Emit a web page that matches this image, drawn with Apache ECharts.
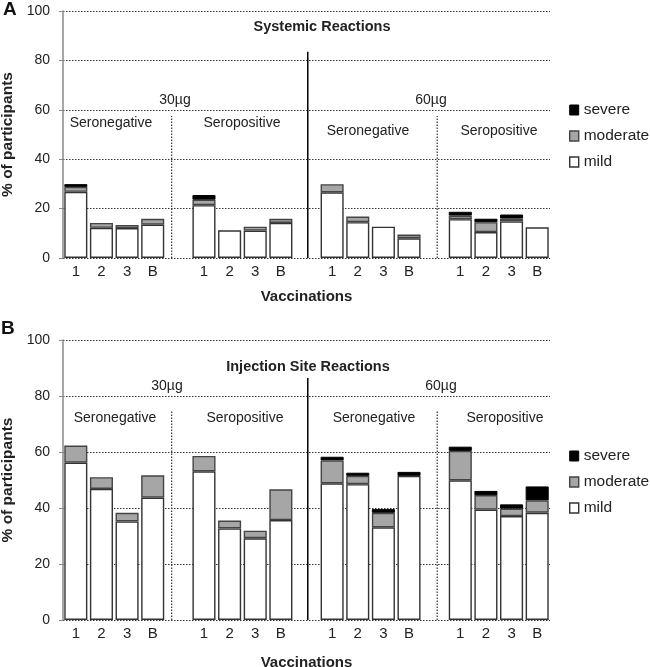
<!DOCTYPE html>
<html>
<head>
<meta charset="utf-8">
<script src="https://cdn.jsdelivr.net/npm/echarts@6/dist/echarts.min.js"></script>
<style>html,body{margin:0;padding:0;background:#fff}#c{width:650px;height:667px}</style>
</head>
<body>
<div id="c"></div>
<script>
// ---- data ----
const vaccinations = ['1', '2', '3', 'B'];
const groupLabels = ['Seronegative', 'Seropositive', 'Seronegative', 'Seropositive'];
const doseLabels = ['30µg', '60µg'];
const severityNames = ['severe', 'moderate', 'mild'];
const yTicks = [0, 20, 40, 60, 80, 100];

// Panel A: Systemic reactions (16 bars: 30µg SN, 30µg SP, 60µg SN, 60µg SP)
const sysMild     = [26.8, 12.2, 12.1, 13.5,  21.4, 11.2, 11.1, 14.2,  26.6, 14.5, 12.7, 8.0,  15.7, 10.5, 14.8, 12.4];
const sysModerate = [2.0, 2.0, 1.3, 2.4,      2.2, 0, 1.6, 1.7,        3.3, 2.3, 0, 1.5,      1.5, 4.0, 1.2, 0];
const sysSevere   = [1.1, 0, 0, 0,            1.9, 0, 0, 0,            0, 0, 0, 0,            1.5, 1.4, 1.6, 0];

// Panel B: Injection site reactions
const injMild     = [56.2, 46.8, 35.2, 43.7,  53.1, 32.7, 29.2, 35.7,  48.8, 48.5, 33.1, 51.5,  49.9, 39.4, 37.1, 38.3];
const injModerate = [6.1, 4.2, 3.1, 8.0,      5.5, 2.8, 2.7, 11.0,     8.2, 3.0, 5.2, 0,      10.5, 5.2, 2.7, 4.4];
const injSevere   = [0, 0, 0, 0,              0, 0, 0, 0,              1.3, 1.1, 1.3, 1.4,    1.5, 1.5, 1.5, 5.0];

// ---- build helpers ----
const FONT = 'Arial, "Liberation Sans", sans-serif';
// categories: 4 groups of 4 bars separated by one empty slot
const cats = [];
for (let g = 0; g < 4; g++) {
  vaccinations.forEach(v => cats.push(v));
  if (g < 3) cats.push('');
}
function expand(arr) {
  const out = [];
  for (let g = 0; g < 4; g++) {
    for (let i = 0; i < 4; i++) {
      const v = arr[g * 4 + i];
      out.push(v === 0 ? '-' : v);
    }
    if (g < 3) out.push('-');
  }
  return out;
}

const styles = {
  mild:     { color: '#ffffff', borderColor: '#333333', borderWidth: 1.4 },
  moderate: { color: '#a6a6a6', borderColor: '#444444', borderWidth: 1.4 },
  severe:   { color: '#000000', borderColor: '#000000', borderWidth: 1 }
};

const panels = [
  { mild: sysMild, moderate: sysModerate, severe: sysSevere, top: 11, bottom: 409, nameGap: 31, legendTop: 96,
    dividers: [{ x: 4.24, top: 57.5, solid: false }, { x: 9.55, top: 83.5, solid: true }, { x: 14.6, top: 57.5, solid: false }] },
  { mild: injMild, moderate: injModerate, severe: injSevere, top: 340, bottom: 47, nameGap: 35, legendTop: 442,
    dividers: [{ x: 4.24, top: 75, solid: false }, { x: 9.55, top: 86.4, solid: true }, { x: 14.6, top: 75, solid: false }] }
];

const grid = [], xAxis = [], yAxis = [], series = [], legend = [];
panels.forEach((p, i) => {
  grid.push({ left: 63, right: 100, top: p.top, bottom: p.bottom, containLabel: false, outerBoundsMode: 'none' });
  xAxis.push({
    type: 'category', gridIndex: i, data: cats,
    axisLine: { show: false }, axisTick: { show: false },
    axisLabel: { interval: 0, fontSize: 15, color: '#222', fontFamily: FONT, margin: 6 },
    name: 'Vaccinations', nameLocation: 'middle', nameGap: p.nameGap,
    nameTextStyle: { fontSize: 15, fontWeight: 'bold', color: '#222', fontFamily: FONT }
  });
  yAxis.push({
    type: 'value', gridIndex: i, min: yTicks[0], max: yTicks[yTicks.length - 1], interval: yTicks[1] - yTicks[0],
    axisLine: { show: true, lineStyle: { color: '#8a8a8a', width: 1.5 } },
    axisTick: { show: true, length: 4, lineStyle: { color: '#8a8a8a' } },
    axisLabel: { fontSize: 14, color: '#222', fontFamily: FONT, margin: 13 },
    splitLine: { show: true, lineStyle: { color: '#333', type: [1.5, 1.5], width: 1 } },
    name: '% of participants', nameLocation: 'middle', nameGap: 44,
    nameTextStyle: { fontSize: 15.5, fontWeight: 'bold', color: '#222', fontFamily: FONT }
  });
  ['mild', 'moderate', 'severe'].forEach(k => {
    series.push({
      name: k, type: 'bar', stack: 'p' + i, xAxisIndex: i, yAxisIndex: i,
      barCategoryGap: '10%', data: expand(p[k]), itemStyle: styles[k], silent: true
    });
  });
  legend.push({
    data: severityNames.map(n => ({ name: n, itemStyle: styles[n] })),
    orient: 'vertical', left: 564, top: p.legendTop,
    itemWidth: 9, itemHeight: 10, itemGap: 8, icon: 'rect',
    textStyle: { fontSize: 15.5, color: '#222', fontFamily: FONT, lineHeight: 18 },
    selectedMode: false
  });
});
// hidden value x-axes for divider lines
panels.forEach((p, i) => {
  xAxis.push({ type: 'value', gridIndex: i, min: 0, max: cats.length, show: false });
  p.dividers.forEach(d => {
    series.push({
      type: 'line', xAxisIndex: 2 + i, yAxisIndex: i, symbol: 'none', silent: true,
      data: [[d.x, 0], [d.x, d.top]],
      lineStyle: d.solid ? { color: '#000', width: 1.5 } : { color: '#333', width: 1.2, type: [1.5, 1.5] }
    });
  });
});

function txt(x, y, s, size, bold) {
  return { type: 'text', x: x, y: y, silent: true,
    style: { text: s, fill: '#222', font: (bold ? 'bold ' : '') + size + 'px ' + FONT, textAlign: 'center', textVerticalAlign: 'middle' } };
}
const graphic = [
  { type: 'text', left: 3, top: 0, style: { text: 'A', fill: '#111', font: 'bold 19px ' + FONT } },
  { type: 'text', left: 1, top: 319, style: { text: 'B', fill: '#111', font: 'bold 19px ' + FONT } },
  txt(322, 27, 'Systemic Reactions', 14.5, true),
  txt(175, 100, doseLabels[0], 14), txt(431, 100, doseLabels[1], 14),
  txt(111, 123, groupLabels[0], 14), txt(242, 123, groupLabels[1], 14),
  txt(368, 131, groupLabels[2], 14), txt(499, 131, groupLabels[3], 14),
  txt(308, 367, 'Injection Site Reactions', 14.5, true),
  txt(167, 386, doseLabels[0], 14), txt(441, 386, doseLabels[1], 14),
  txt(115, 418, groupLabels[0], 14), txt(245, 418, groupLabels[1], 14),
  txt(374, 418, groupLabels[2], 14), txt(505, 418, groupLabels[3], 14)
];

const chart = echarts.init(document.getElementById('c'), null, { renderer: 'canvas' });
chart.setOption({
  animation: false, backgroundColor: '#fff',
  grid, xAxis, yAxis, series, legend, graphic
});
</script>
</body>
</html>
